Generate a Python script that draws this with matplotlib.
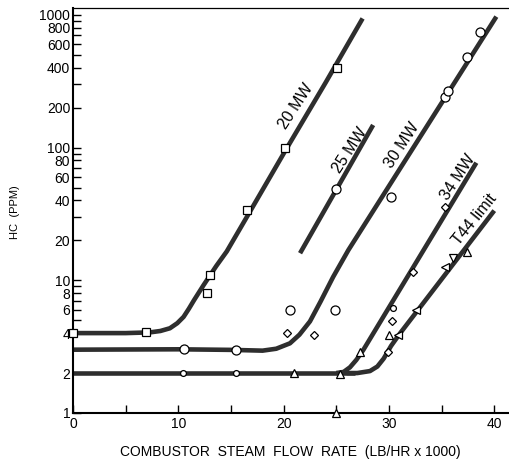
import matplotlib
matplotlib.use("Agg")
import matplotlib.pyplot as plt
from matplotlib.ticker import FixedLocator, FixedFormatter, MultipleLocator, FuncFormatter

plt.rcParams['font.family'] = ['Liberation Sans', 'DejaVu Sans']

# ---- curves ----
mw20_x = [0, 5, 7.3, 8.3, 9.2, 9.9, 10.5, 11.0, 11.5, 12.4, 13.6, 14.6, 16.8, 20.1, 24.0, 27.5]
mw20_y = [4.0, 4.0, 4.05, 4.15, 4.35, 4.75, 5.3, 6.1, 7.1, 9.2, 12.8, 16.5, 32.9, 93, 310, 940]

mw25_x = [21.56, 28.5]
mw25_y = [16, 148]

mw30_x = [0, 10, 15, 18.0, 19.3, 20.6, 21.5, 22.5, 23.5, 24.7, 26.15, 40.2]
mw30_y = [3.0, 3.02, 2.99, 2.95, 3.05, 3.35, 3.89, 4.9, 6.9, 10.6, 16.9, 970]

base2_x = [0, 10, 20, 26.8]
base2_y = [2.0, 2.0, 2.0, 2.0]

mw34_x = [25.0, 25.7, 26.3, 26.9, 27.57, 38.3]
mw34_y = [2.0, 2.04, 2.21, 2.51, 2.99, 76.9]

t44_x = [26.0, 27.0, 28.2, 28.9, 29.5, 30.2, 31.05, 40.0]
t44_y = [2.0, 2.0, 2.07, 2.24, 2.57, 3.2, 3.98, 33.5]

# ---- measured points ----
sq_x = [0, 6.9, 12.7, 13.0, 16.5, 20.1, 25.1]
sq_y = [4.0, 4.05, 8.0, 11.0, 34, 99, 396]

circ_x = [10.5, 15.5, 20.6, 24.9, 25.0, 30.2, 35.3, 35.65, 37.4, 38.65]
circ_y = [3.03, 3.0, 5.95, 6.0, 49, 42.7, 242, 269, 484, 739]

scirc_x = [10.4, 15.5, 30.4]
scirc_y = [2.0, 2.0, 6.15]

dia_x = [20.3, 22.9, 30.3, 32.3, 35.3, 29.95]
dia_y = [4.0, 3.87, 4.93, 11.6, 35.5, 2.87]

tri_up_x = [21.0, 25.36, 25.0, 27.25, 30.0, 37.4]
tri_up_y = [2.0, 1.97, 1.0, 2.9, 3.9, 16.4]

tri_left_x = [30.9, 32.6, 35.3]
tri_left_y = [3.9, 6.0, 12.6]

tri_down_x = [36.1]
tri_down_y = [14.7]

# ---- labels ----
curve_labels = ["20 MW", "25 MW", "30 MW", "34 MW", "T44 limit"]
label_x = [21.2, 26.3, 31.2, 36.6, 38.1]
label_y = [203, 96, 105, 60, 28.5]
label_rot = [57, 57, 57, 57, 51]

ytick_vals = [1, 2, 4, 6, 8, 10, 20, 40, 60, 80, 100, 200, 400, 600, 800, 1000]
ytick_labels = ["1", "2", "4", "6", "8", "10", "20", "40", "60", "80", "100", "200", "400", "600", "800", "1000"]

fig = plt.figure(figsize=(5.10, 4.75), dpi=100)
ax = fig.add_axes([73/510, 62/475, (509-73)/510, (413-8.5)/475])
ax.set_yscale('log')
ax.set_xlim(0, 41.4)
ax.set_ylim(1, 1117)

lc = '#2e2e2e'
lw = 3.3
for xs, ys in [(mw20_x, mw20_y), (mw25_x, mw25_y), (mw30_x, mw30_y),
               (base2_x, base2_y), (mw34_x, mw34_y), (t44_x, t44_y)]:
    ax.plot(xs, ys, color=lc, lw=lw, solid_capstyle='butt', solid_joinstyle='round', zorder=2)

mk = dict(linestyle='none', markerfacecolor='white', markeredgecolor='black',
          markeredgewidth=0.9, zorder=3, clip_on=False)
ax.plot(sq_x, sq_y, marker='s', markersize=5.5, **mk)
ax.plot(circ_x, circ_y, marker='o', markersize=6.5, **mk)
ax.plot(scirc_x, scirc_y, marker='o', markersize=4.2, **mk)
ax.plot(dia_x, dia_y, marker='D', markersize=4.3, **mk)
ax.plot(tri_up_x, tri_up_y, marker='^', markersize=5.2, **mk)
ax.plot(tri_left_x, tri_left_y, marker='<', markersize=5.2, **mk)
ax.plot(tri_down_x, tri_down_y, marker='v', markersize=5.2, **mk)

for t, x, y, r in zip(curve_labels, label_x, label_y, label_rot):
    ax.text(x, y, t, rotation=r, rotation_mode='anchor', ha='center', va='center',
            fontsize=11.5, color='black')

# axes styling
ax.spines['right'].set_visible(False)
ax.spines['top'].set_linewidth(0.9)
ax.spines['left'].set_linewidth(1.5)
ax.spines['bottom'].set_linewidth(1.5)

ax.xaxis.set_major_locator(MultipleLocator(5))
ax.xaxis.set_major_formatter(FuncFormatter(lambda v, p: f"{int(round(v))}" if round(v) % 10 == 0 else ""))
ax.tick_params(axis='x', direction='in', length=6, width=1.0, labelsize=10, pad=3, top=False)

ax.yaxis.set_major_locator(FixedLocator(ytick_vals))
ax.yaxis.set_major_formatter(FixedFormatter(ytick_labels))
minor = [m * d for d in (1, 10, 100) for m in (3, 5, 7, 9)]
ax.yaxis.set_minor_locator(FixedLocator(minor))
ax.tick_params(axis='y', which='both', direction='in', length=6, width=1.0, labelsize=10, pad=2, right=False)
ax.tick_params(axis='y', which='minor', labelleft=False)

fig.text(290/510, 1 - 452/475, "COMBUSTOR  STEAM  FLOW  RATE  (LB/HR x 1000)",
         ha='center', va='center', fontsize=10)
fig.text(15/510, 1 - 212/475, "HC  (PPM)", rotation=90, ha='center', va='center', fontsize=8)

fig.savefig("out.png", dpi=100)
